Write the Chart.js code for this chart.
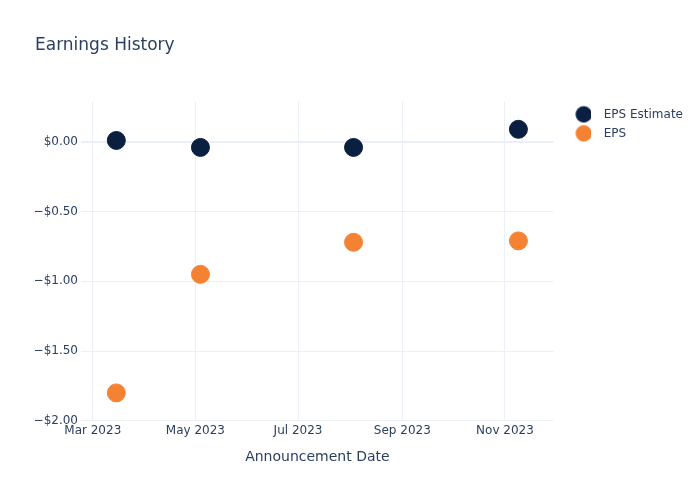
<!DOCTYPE html>
<html>
<head>
<meta charset="utf-8">
<script src="https://cdn.jsdelivr.net/npm/chart.js@4.4.0/dist/chart.umd.min.js"></script>
<style>
  html, body { margin: 0; padding: 0; background: #fff; }
  #wrap { width: 700px; height: 500px; }
</style>
</head>
<body>
<div id="wrap"><canvas id="epsChart" width="700" height="500"></canvas></div>
<script>
// datos
const announceDates = ['2023-03-15', '2023-05-04', '2023-08-03', '2023-11-09']
const epsEstimate = [0.01, -0.04, -0.04, 0.09]
const epsActual = [-1.80, -0.95, -0.72, -0.71]
const xTickDates = ['2023-03-01', '2023-05-01', '2023-07-01', '2023-09-01', '2023-11-01']
const xTickLabels = ['Mar 2023', 'May 2023', 'Jul 2023', 'Sep 2023', 'Nov 2023']
const yTicks = [-2, -1.5, -1, -0.5, 0]
const xRange = ['2023-02-22', '2023-11-30']
const yRange = [-2, 0.29]

const NAVY = '#0b1f41'
const ORANGE = '#f58233'
const TXT = '#2a3f5f'
const GRID = '#ebf0f8'
const FONT = "'DejaVu Sans', sans-serif"

// fecha -> dias
const toDay = s => Date.UTC(+s.slice(0, 4), +s.slice(5, 7) - 1, +s.slice(8, 10)) / 86400000

const fmtMoney = v => (v < 0 ? '\u2212$' : '$') + Math.abs(v).toFixed(2)

// marcador para la leyenda (circulo desplazado)
const legendDot = color => {
    const c = document.createElement('canvas')
    c.width = 24
    c.height = 18
    const ctx = c.getContext('2d')
    ctx.fillStyle = color
    ctx.beginPath()
    ctx.arc(16.5, 9, 8.2, 0, Math.PI * 2)
    ctx.fill()
    return c
}

const mkPoints = vals => announceDates.map((d, i) => ({ x: toDay(d), y: vals[i] }))

const data = {
    datasets: [
        {
            label: 'EPS Estimate',
            data: mkPoints(epsEstimate),
            backgroundColor: NAVY,
            borderColor: NAVY,
            borderWidth: 1,
            pointRadius: 9,
            pointHoverRadius: 9
        },
        {
            label: 'EPS',
            data: mkPoints(epsActual),
            backgroundColor: ORANGE,
            borderColor: ORANGE,
            borderWidth: 1,
            pointRadius: 9,
            pointHoverRadius: 9
        }
    ]
}

const options = {
    responsive: false,
    animation: false,
    layout: { padding: { left: 35, right: 7, top: 0, bottom: 34 } },
    plugins: {
        title: {
            display: true,
            text: 'Earnings History',
            align: 'start',
            color: TXT,
            font: { family: FONT, size: 17, weight: 'normal' },
            padding: { top: 35, bottom: 46 }
        },
        legend: {
            position: 'right',
            align: 'start',
            fullSize: false,
            labels: {
                color: TXT,
                font: { family: FONT, size: 12 },
                usePointStyle: true,
                pointStyleWidth: 37,
                padding: 7,
                generateLabels: chart => chart.data.datasets.map((ds, i) => ({
                    text: ds.label,
                    fontColor: TXT,
                    pointStyle: legendDot(ds.backgroundColor),
                    datasetIndex: i,
                    hidden: false,
                    lineWidth: 0
                }))
            }
        },
        tooltip: { enabled: false }
    },
    scales: {
        x: {
            type: 'linear',
            min: toDay(xRange[0]),
            max: toDay(xRange[1]),
            afterBuildTicks: s => { s.ticks = xTickDates.map(d => ({ value: toDay(d) })) },
            ticks: {
                color: TXT,
                font: { family: FONT, size: 12 },
                padding: 3,
                maxRotation: 0,
                autoSkip: false,
                callback: (v, i) => xTickLabels[i]
            },
            grid: { color: GRID, lineWidth: 1, drawTicks: false },
            border: { display: false },
            title: {
                display: true,
                text: 'Announcement Date',
                color: TXT,
                font: { family: FONT, size: 14 },
                padding: { top: 8, bottom: 0 }
            }
        },
        y: {
            type: 'linear',
            min: yRange[0],
            max: yRange[1],
            afterBuildTicks: s => { s.ticks = yTicks.map(v => ({ value: v })) },
            afterFit: s => { s.width = 46 },
            ticks: {
                color: TXT,
                font: { family: FONT, size: 12 },
                padding: 3,
                autoSkip: false,
                callback: v => fmtMoney(v)
            },
            grid: {
                color: GRID,
                lineWidth: ctx => (ctx.tick && ctx.tick.value === 0 ? 2 : 1),
                drawTicks: false
            },
            border: { display: false }
        }
    }
}

new Chart('epsChart', { type: 'scatter', data, options })
</script>
</body>
</html>
